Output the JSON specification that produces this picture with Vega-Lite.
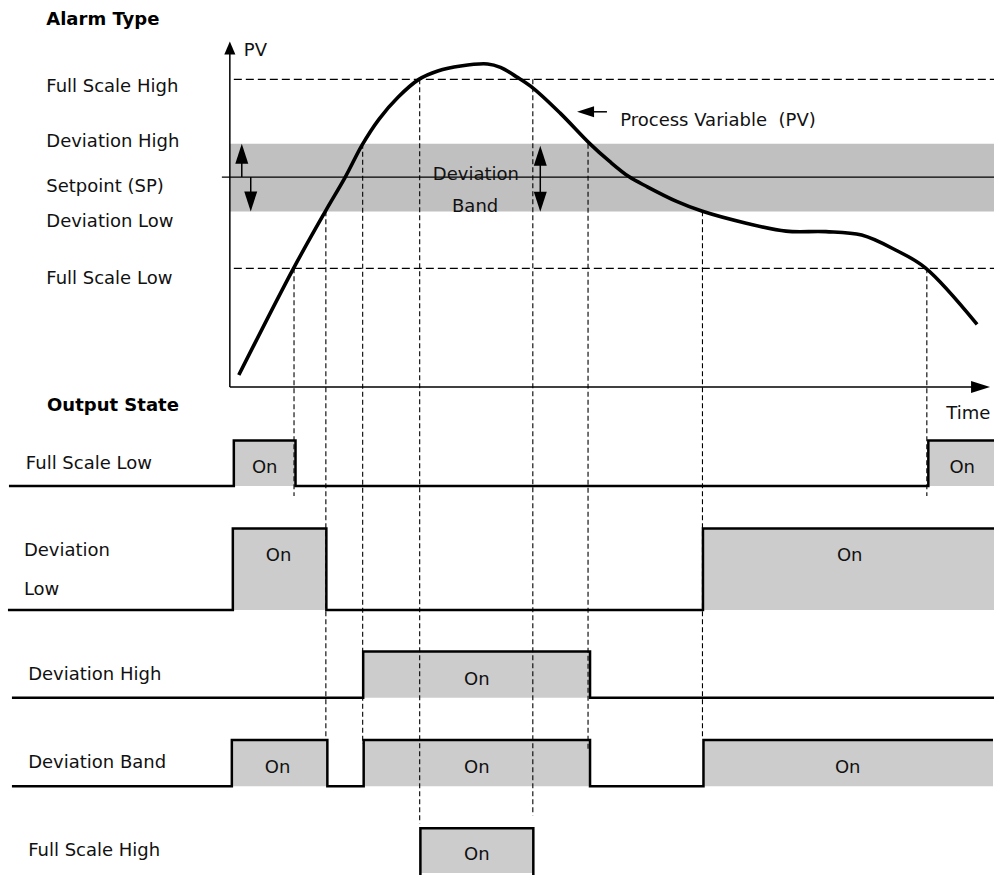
{
  "$schema": "https://vega.github.io/schema/vega-lite/v6.json",
  "width": 999,
  "height": 880,
  "autosize": {"type": "fit", "contains": "padding"},
  "padding": 0,
  "background": "white",
  "config": {"view": {"stroke": null}, "axis": {"disable": true}},
  "datasets": {
    "band": [{"x0": 231, "x1": 999, "y0": 144.8, "y1": 213.3}],
    "onRects": [
      {"row": "Full Scale Low", "x0": 235, "x1": 297, "y0": 444, "y1": 490},
      {"row": "Full Scale Low", "x0": 933, "x1": 999, "y0": 444, "y1": 490},
      {"row": "Deviation Low", "x0": 234, "x1": 328, "y0": 532.7, "y1": 615},
      {"row": "Deviation Low", "x0": 706.5, "x1": 999, "y0": 532.7, "y1": 615},
      {"row": "Deviation High", "x0": 365, "x1": 593, "y0": 656.7, "y1": 703.3},
      {"row": "Deviation Band", "x0": 233, "x1": 329, "y0": 746, "y1": 792.5},
      {"row": "Deviation Band", "x0": 365.5, "x1": 593, "y0": 746, "y1": 792.5},
      {"row": "Deviation Band", "x0": 707, "x1": 998, "y0": 746, "y1": 792.5},
      {"row": "Full Scale High", "x0": 422.5, "x1": 536, "y0": 835, "y1": 880}
    ],
    "levels": [
      {"level": "Full Scale High", "x0": 235, "x1": 999, "y": 80},
      {"level": "Full Scale Low", "x0": 235, "x1": 999, "y": 270.5}
    ],
    "setpoint": [{"level": "Setpoint", "x0": 223, "x1": 999, "y": 178.5}],
    "crossings": [
      {"x": 295.5, "y0": 270.5, "y1": 500},
      {"x": 327.5, "y0": 213, "y1": 745},
      {"x": 364.5, "y0": 145, "y1": 750},
      {"x": 421.8, "y0": 80, "y1": 830},
      {"x": 535.5, "y0": 80, "y1": 822},
      {"x": 591, "y0": 145, "y1": 755},
      {"x": 706, "y0": 213, "y1": 745},
      {"x": 931.5, "y0": 270.5, "y1": 500}
    ],
    "segments": [
      {"x0": 231, "y0": 54, "x1": 231, "y1": 390},
      {"x0": 231, "y0": 390, "x1": 977, "y1": 390},
      {"x0": 243, "y0": 160, "x1": 243, "y1": 178.5},
      {"x0": 252, "y0": 178.5, "x1": 252, "y1": 196},
      {"x0": 543, "y0": 160, "x1": 543, "y1": 200},
      {"x0": 592, "y0": 112.7, "x1": 610, "y1": 112.7}
    ],
    "pv": [
      {"t": 240, "v": 378},
      {"t": 295, "v": 270.5},
      {"t": 327, "v": 213},
      {"t": 347, "v": 178.5},
      {"t": 364, "v": 146},
      {"t": 381, "v": 120},
      {"t": 400, "v": 98},
      {"t": 421, "v": 80},
      {"t": 440, "v": 71.5},
      {"t": 463, "v": 66.5},
      {"t": 490, "v": 64.5},
      {"t": 503, "v": 68},
      {"t": 520, "v": 78},
      {"t": 536, "v": 89},
      {"t": 563, "v": 114},
      {"t": 593, "v": 145},
      {"t": 613, "v": 163},
      {"t": 632, "v": 178},
      {"t": 650, "v": 188},
      {"t": 680, "v": 203},
      {"t": 706, "v": 213},
      {"t": 750, "v": 225},
      {"t": 790, "v": 233},
      {"t": 830, "v": 233.5},
      {"t": 866, "v": 237},
      {"t": 900, "v": 252},
      {"t": 930, "v": 270},
      {"t": 982, "v": 327}
    ],
    "steps": [
      {"row": "Full Scale Low", "i": 0, "x": 9, "y": 490},
      {"row": "Full Scale Low", "i": 1, "x": 235, "y": 490},
      {"row": "Full Scale Low", "i": 2, "x": 235, "y": 444},
      {"row": "Full Scale Low", "i": 3, "x": 297, "y": 444},
      {"row": "Full Scale Low", "i": 4, "x": 297, "y": 490},
      {"row": "Full Scale Low", "i": 5, "x": 933, "y": 490},
      {"row": "Full Scale Low", "i": 6, "x": 933, "y": 444},
      {"row": "Full Scale Low", "i": 7, "x": 999, "y": 444},
      {"row": "Deviation Low", "i": 0, "x": 8, "y": 615},
      {"row": "Deviation Low", "i": 1, "x": 234, "y": 615},
      {"row": "Deviation Low", "i": 2, "x": 234, "y": 532.7},
      {"row": "Deviation Low", "i": 3, "x": 328, "y": 532.7},
      {"row": "Deviation Low", "i": 4, "x": 328, "y": 615},
      {"row": "Deviation Low", "i": 5, "x": 706.5, "y": 615},
      {"row": "Deviation Low", "i": 6, "x": 706.5, "y": 532.7},
      {"row": "Deviation Low", "i": 7, "x": 999, "y": 532.7},
      {"row": "Deviation High", "i": 0, "x": 12, "y": 703.3},
      {"row": "Deviation High", "i": 1, "x": 365, "y": 703.3},
      {"row": "Deviation High", "i": 2, "x": 365, "y": 656.7},
      {"row": "Deviation High", "i": 3, "x": 593, "y": 656.7},
      {"row": "Deviation High", "i": 4, "x": 593, "y": 703.3},
      {"row": "Deviation High", "i": 5, "x": 999, "y": 703.3},
      {"row": "Deviation Band", "i": 0, "x": 12, "y": 792.5},
      {"row": "Deviation Band", "i": 1, "x": 233, "y": 792.5},
      {"row": "Deviation Band", "i": 2, "x": 233, "y": 746},
      {"row": "Deviation Band", "i": 3, "x": 329, "y": 746},
      {"row": "Deviation Band", "i": 4, "x": 329, "y": 792.5},
      {"row": "Deviation Band", "i": 5, "x": 365.5, "y": 792.5},
      {"row": "Deviation Band", "i": 6, "x": 365.5, "y": 746},
      {"row": "Deviation Band", "i": 7, "x": 593, "y": 746},
      {"row": "Deviation Band", "i": 8, "x": 593, "y": 792.5},
      {"row": "Deviation Band", "i": 9, "x": 707, "y": 792.5},
      {"row": "Deviation Band", "i": 10, "x": 707, "y": 746},
      {"row": "Deviation Band", "i": 11, "x": 998, "y": 746},
      {"row": "Full Scale High", "i": 0, "x": 422.5, "y": 882},
      {"row": "Full Scale High", "i": 1, "x": 422.5, "y": 835},
      {"row": "Full Scale High", "i": 2, "x": 536, "y": 835},
      {"row": "Full Scale High", "i": 3, "x": 536, "y": 882}
    ],
    "arrowsUp": [{"x": 243, "y": 155}, {"x": 543, "y": 157}],
    "arrowsDown": [{"x": 252, "y": 203}, {"x": 543, "y": 203.3}],
    "axisTop": [{"x": 231, "y": 48.5}],
    "timeArrow": [{"x": 985.5, "y": 390}],
    "pvPointer": [{"x": 588.5, "y": 112.7}],
    "labels": [
      {"label": "PV", "x": 245, "y": 56.7},
      {"label": "Full Scale High", "x": 46.5, "y": 92.7},
      {"label": "Deviation High", "x": 46.5, "y": 148.3},
      {"label": "Setpoint (SP)", "x": 46.5, "y": 193.5},
      {"label": "Deviation Low", "x": 46.5, "y": 229},
      {"label": "Full Scale Low", "x": 46.5, "y": 286},
      {"label": "Process Variable\u00a0 (PV)", "x": 623.3, "y": 127.3},
      {"label": "Time", "x": 951, "y": 422},
      {"label": "Full Scale Low", "x": 26, "y": 472.3},
      {"label": "Deviation", "x": 24, "y": 560.7},
      {"label": "Low", "x": 24, "y": 600},
      {"label": "Deviation High", "x": 28.3, "y": 685},
      {"label": "Deviation Band", "x": 28.3, "y": 774.3},
      {"label": "Full Scale High", "x": 28.3, "y": 862.7}
    ],
    "titles": [
      {"label": "Alarm Type", "x": 46.5, "y": 25},
      {"label": "Output State", "x": 47.3, "y": 414}
    ],
    "centered": [
      {"label": "Deviation", "x": 478.3, "y": 181.7},
      {"label": "Band", "x": 477.5, "y": 213.3},
      {"label": "On", "x": 266, "y": 476.7},
      {"label": "On", "x": 967, "y": 476.7},
      {"label": "On", "x": 280, "y": 565.7},
      {"label": "On", "x": 854, "y": 565.7},
      {"label": "On", "x": 479.3, "y": 690},
      {"label": "On", "x": 279, "y": 778.7},
      {"label": "On", "x": 479.3, "y": 778.7},
      {"label": "On", "x": 852, "y": 778.7},
      {"label": "On", "x": 479.3, "y": 867.3}
    ]
  },
  "layer": [
    {
      "data": {"name": "band"},
      "mark": {"type": "rect", "color": "#c0c0c0"},
      "encoding": {
        "x": {"field": "x0", "type": "quantitative", "scale": {"domain": [0, 999], "nice": false, "zero": false}, "axis": null},
        "x2": {"field": "x1"},
        "y": {"field": "y0", "type": "quantitative", "scale": {"domain": [0, 880], "nice": false, "zero": false, "reverse": true}, "axis": null},
        "y2": {"field": "y1"}
      }
    },
    {
      "data": {"name": "onRects"},
      "mark": {"type": "rect", "color": "#cccccc"},
      "encoding": {
        "x": {"field": "x0", "type": "quantitative"},
        "x2": {"field": "x1"},
        "y": {"field": "y0", "type": "quantitative"},
        "y2": {"field": "y1"}
      }
    },
    {
      "data": {"name": "setpoint"},
      "mark": {"type": "rule", "color": "#000000", "strokeWidth": 1.2},
      "encoding": {
        "x": {"field": "x0", "type": "quantitative"},
        "x2": {"field": "x1"},
        "y": {"field": "y", "type": "quantitative"}
      }
    },
    {
      "data": {"name": "levels"},
      "mark": {"type": "rule", "color": "#000000", "strokeWidth": 1.1, "strokeDash": [8, 4]},
      "encoding": {
        "x": {"field": "x0", "type": "quantitative"},
        "x2": {"field": "x1"},
        "y": {"field": "y", "type": "quantitative"}
      }
    },
    {
      "data": {"name": "crossings"},
      "mark": {"type": "rule", "color": "#000000", "strokeWidth": 1.1, "strokeDash": [5, 3]},
      "encoding": {
        "x": {"field": "x", "type": "quantitative"},
        "y": {"field": "y0", "type": "quantitative"},
        "y2": {"field": "y1"}
      }
    },
    {
      "data": {"name": "segments"},
      "mark": {"type": "rule", "color": "#000000", "strokeWidth": 1.5},
      "encoding": {
        "x": {"field": "x0", "type": "quantitative"},
        "x2": {"field": "x1"},
        "y": {"field": "y0", "type": "quantitative"},
        "y2": {"field": "y1"}
      }
    },
    {
      "data": {"name": "pv"},
      "mark": {"type": "line", "interpolate": "catmull-rom", "color": "#000000", "strokeWidth": 3.6, "strokeCap": "butt"},
      "encoding": {
        "x": {"field": "t", "type": "quantitative"},
        "y": {"field": "v", "type": "quantitative"}
      }
    },
    {
      "data": {"name": "steps"},
      "mark": {"type": "line", "color": "#000000", "strokeWidth": 2.5, "strokeJoin": "miter"},
      "encoding": {
        "x": {"field": "x", "type": "quantitative"},
        "y": {"field": "y", "type": "quantitative"},
        "detail": {"field": "row", "type": "nominal"},
        "order": {"field": "i", "type": "quantitative"}
      }
    },
    {
      "data": {"name": "arrowsUp"},
      "mark": {"type": "point", "filled": true, "color": "#000000", "opacity": 1, "strokeWidth": 0, "shape": "M0,-1L0.65,1L-0.65,1Z", "size": 400},
      "encoding": {
        "x": {"field": "x", "type": "quantitative"},
        "y": {"field": "y", "type": "quantitative"}
      }
    },
    {
      "data": {"name": "arrowsDown"},
      "mark": {"type": "point", "filled": true, "color": "#000000", "opacity": 1, "strokeWidth": 0, "shape": "M0,1L0.65,-1L-0.65,-1Z", "size": 400},
      "encoding": {
        "x": {"field": "x", "type": "quantitative"},
        "y": {"field": "y", "type": "quantitative"}
      }
    },
    {
      "data": {"name": "axisTop"},
      "mark": {"type": "point", "filled": true, "color": "#000000", "opacity": 1, "strokeWidth": 0, "shape": "M0,-1L0.85,1L-0.85,1Z", "size": 169},
      "encoding": {
        "x": {"field": "x", "type": "quantitative"},
        "y": {"field": "y", "type": "quantitative"}
      }
    },
    {
      "data": {"name": "timeArrow"},
      "mark": {"type": "point", "filled": true, "color": "#000000", "opacity": 1, "strokeWidth": 0, "shape": "M1,0L-1,0.63L-1,-0.63Z", "size": 361},
      "encoding": {
        "x": {"field": "x", "type": "quantitative"},
        "y": {"field": "y", "type": "quantitative"}
      }
    },
    {
      "data": {"name": "pvPointer"},
      "mark": {"type": "point", "filled": true, "color": "#000000", "opacity": 1, "strokeWidth": 0, "shape": "M-1,0L1,0.65L1,-0.65Z", "size": 289},
      "encoding": {
        "x": {"field": "x", "type": "quantitative"},
        "y": {"field": "y", "type": "quantitative"}
      }
    },
    {
      "data": {"name": "labels"},
      "mark": {"type": "text", "font": "DejaVu Sans", "fontSize": 18, "align": "left", "baseline": "alphabetic", "color": "#111111"},
      "encoding": {
        "x": {"field": "x", "type": "quantitative"},
        "y": {"field": "y", "type": "quantitative"},
        "text": {"field": "label", "type": "nominal"}
      }
    },
    {
      "data": {"name": "titles"},
      "mark": {"type": "text", "font": "DejaVu Sans", "fontSize": 18, "fontWeight": "bold", "align": "left", "baseline": "alphabetic", "color": "#000000"},
      "encoding": {
        "x": {"field": "x", "type": "quantitative"},
        "y": {"field": "y", "type": "quantitative"},
        "text": {"field": "label", "type": "nominal"}
      }
    },
    {
      "data": {"name": "centered"},
      "mark": {"type": "text", "font": "DejaVu Sans", "fontSize": 18, "align": "center", "baseline": "alphabetic", "color": "#111111"},
      "encoding": {
        "x": {"field": "x", "type": "quantitative"},
        "y": {"field": "y", "type": "quantitative"},
        "text": {"field": "label", "type": "nominal"}
      }
    }
  ]
}
